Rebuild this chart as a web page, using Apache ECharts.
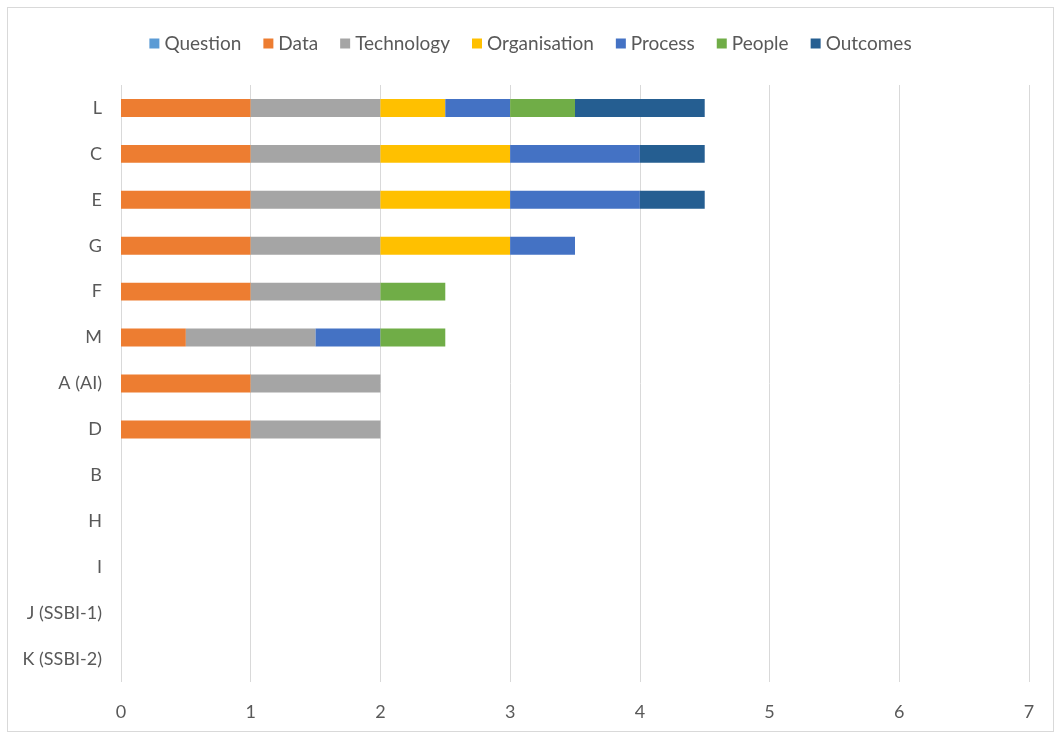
<!DOCTYPE html>
<html>
<head>
<meta charset="utf-8">
<script src="https://cdn.jsdelivr.net/npm/echarts@6/dist/echarts.min.js"></script>
<style>
  html, body { margin: 0; padding: 0; background: #fff; }
  #chart { position: absolute; left: 7px; top: 7px; width: 1047px; height: 725px; border: 1px solid #d9d9d9; box-sizing: border-box; }
</style>
</head>
<body>
<div id="chart"></div>
<script>
// categories listed bottom to top (ECharts category y axis starts at bottom)
const categories = ['K (SSBI-2)', 'J (SSBI-1)', 'I', 'H', 'B', 'D', 'A (AI)', 'M', 'F', 'G', 'E', 'C', 'L'];
const seriesNames = ['Question', 'Data', 'Technology', 'Organisation', 'Process', 'People', 'Outcomes'];
const colors = ['#5B9BD5', '#ED7D31', '#A5A5A5', '#FFC000', '#4472C4', '#70AD47', '#255E91'];

const question     = [0, 0, 0, 0, 0, 0, 0, 0, 0, 0, 0, 0, 0];
const data         = [0, 0, 0, 0, 0, 1, 1, 0.5, 1, 1, 1, 1, 1];
const technology   = [0, 0, 0, 0, 0, 1, 1, 1, 1, 1, 1, 1, 1];
const organisation = [0, 0, 0, 0, 0, 0, 0, 0, 0, 1, 1, 1, 0.5];
const process      = [0, 0, 0, 0, 0, 0, 0, 0.5, 0, 0.5, 1, 1, 0.5];
const people       = [0, 0, 0, 0, 0, 0, 0, 0.5, 0.5, 0, 0, 0, 0.5];
const outcomes     = [0, 0, 0, 0, 0, 0, 0, 0, 0, 0, 0.5, 0.5, 1];

const values = [question, data, technology, organisation, process, people, outcomes];

const chart = echarts.init(document.getElementById('chart'));
const font = 'Lato, "Open Sans", sans-serif';

chart.setOption({
  animation: false,
  color: colors,
  textStyle: { fontFamily: font },
  legend: {
    top: 21,
    left: 'center',
    itemWidth: 10,
    itemHeight: 10,
    itemGap: 22,
    icon: 'rect',
    textStyle: { color: '#595959', fontSize: 19, fontFamily: font },
    data: seriesNames
  },
  grid: { left: 113, right: 24, top: 77, bottom: 49 },
  xAxis: {
    type: 'value',
    min: 0,
    max: 7,
    interval: 1,
    axisLine: { show: false },
    axisTick: { show: false },
    axisLabel: { color: '#595959', fontSize: 18, margin: 21 },
    splitLine: { lineStyle: { color: '#d9d9d9', width: 1 } }
  },
  yAxis: {
    type: 'category',
    data: categories,
    axisLine: { show: false },
    axisTick: { show: false },
    axisLabel: { color: '#595959', fontSize: 18, margin: 19 }
  },
  series: seriesNames.map((name, i) => ({
    name: name,
    type: 'bar',
    stack: 'total',
    barWidth: '39%',
    data: values[i]
  }))
});
</script>
</body>
</html>
